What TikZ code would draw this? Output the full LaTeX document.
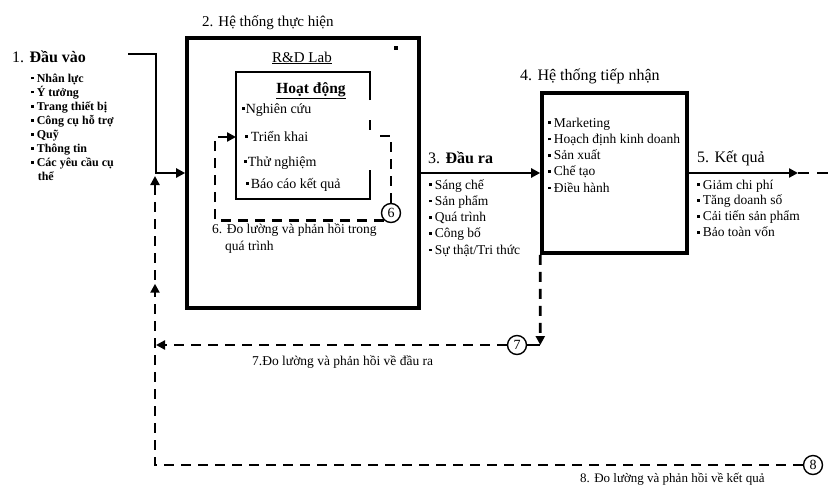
\documentclass[tikz,border=0pt]{standalone}
\usepackage{fontspec}
\setmainfont{Liberation Serif}
\usetikzlibrary{arrows.meta,decorations.markings}
\newcommand{\bsq}{\rule[0.22em]{2.6pt}{2.6pt}}
\begin{document}
\begin{tikzpicture}[x=1pt,y=-1pt,
  solidln/.style={line width=2.6pt},
  boxln/.style={draw,line width=3.6pt,inner sep=0pt},
  fb/.style={line width=2.8pt,dash pattern=on 10pt off 7pt},
  tip/.style={-{Triangle[length=9pt,width=9pt]}},
  num/.style={circle,draw,line width=1.4pt,minimum size=19pt,inner sep=0pt,fill=white,font=\fontsize{14}{14}\selectfont},
  ttl/.style={anchor=base west,inner sep=0pt,font=\fontsize{16}{18}\selectfont},
  itm/.style={anchor=base west,inner sep=0pt,font=\fontsize{13.5}{16}\selectfont},
  itmb/.style={anchor=base west,inner sep=0pt,font=\fontsize{12}{14}\selectfont\bfseries},
  lbl/.style={anchor=base west,inner sep=0pt,font=\fontsize{13.5}{16}\selectfont}]
\useasboundingbox (0,0) rectangle (832,488);

% boxes
\node[boxln,minimum width=232pt,minimum height=270pt] (box2) at (303,173) {};
\node[boxln,minimum width=145pt,minimum height=160pt] (box4) at (614.5,173) {};
\node[fill=black,minimum size=3.4pt,inner sep=0pt] (dot) at (396,48) {};

% inner box (right edge interrupted)
\draw[line width=1.6pt] (370,100) -- (370,72) -- (236,72) -- (236,199) -- (370,199) -- (370,170);
\draw[line width=1.6pt] (370,120) -- (370,130);

% titles
\node[ttl] (t1) at (12,62) {1. \textbf{Đầu vào}};
\node[ttl,font=\fontsize{15}{18}\selectfont] (t2) at (202,26) {2. Hệ thống thực hiện};
\node[ttl] (t3) at (428,163) {3. \textbf{Đầu ra}};
\node[ttl] (t4) at (520,80) {4. Hệ thống tiếp nhận};
\node[ttl] (t5) at (697,162) {5. Kết quả};
\node[anchor=base,inner sep=0pt,font=\fontsize{15}{18}\selectfont] (rd) at (302,62) {\underline{R\&D Lab}};
\node[anchor=base,inner sep=0pt,font=\fontsize{15.5}{18}\selectfont\bfseries] (hd) at (311,93) {\underline{Hoạt động}};

% list 1
\foreach \t [count=\i] in {Nhân lực,Ý tưởng,Trang thiết bị,Công cụ hỗ trợ,Quỹ,Thông tin,Các yêu cầu cụ}
  \node[itmb] (a\i) at (31,{82+(\i-1)*14.1}) {\bsq\hspace{3pt}\t};
\node[itmb] (a8) at (37.6,{82+7*14.1}) {thể};

% inner list
\node[itm,font=\fontsize{14}{16}\selectfont] (h1) at (242,113) {\bsq\hspace{1pt}Nghiên cứu};
\node[itm,font=\fontsize{14}{16}\selectfont] (h2) at (245,141) {\bsq\hspace{3pt}Triển khai};
\node[itm,font=\fontsize{14}{16}\selectfont] (h3) at (244,166) {\bsq\hspace{1pt}Thử nghiệm};
\node[itm,font=\fontsize{14}{16}\selectfont] (h4) at (246,188) {\bsq\hspace{2pt}Báo cáo kết quả};

% list 3
\foreach \t [count=\i] in {Sáng chế,Sản phẩm,Quá trình,Công bố,Sự thật/Tri thức}
  \node[itm] (o\i) at (429,{189+(\i-1)*16.3}) {\bsq\hspace{3pt}\t};
% list 4
\foreach \t [count=\i] in {Marketing,Hoạch định kinh doanh,Sản xuất,Chế tạo,Điều hành}
  \node[itm] (r\i) at (548,{127+(\i-1)*16.3}) {\bsq\hspace{3pt}\t};
% list 5
\foreach \t [count=\i] in {Giảm chi phí,Tăng doanh số,Cải tiến sản phẩm,Bảo toàn vốn}
  \node[itm] (k\i) at (697,{189+(\i-1)*15.9}) {\bsq\hspace{3pt}\t};

% feedback labels
\node[lbl] (l6a) at (212,233) {6. Đo lường và phản hồi trong};
\node[lbl] (l6b) at (225,250) {quá trình};
\node[lbl] (l7) at (252,365) {7.Đo lường và phản hồi về đầu ra};
\node[lbl,font=\fontsize{13}{16}\selectfont] (l8) at (580,482) {8. Đo lường và phản hồi về kết quả};

% numbered circles
\node[num] (c6) at (391,213) {6};
\node[num] (c7) at (517,345) {7};
\node[num] (c8) at (813,465) {8};

% main flow
\coordinate (in0) at (128,54);
\coordinate (in1) at (156,54);
\draw[solidln,tip] (in0) -- (in1) |- (box2.west);
\draw[solidln,tip] (box2.east) -- (box4.west);
\coordinate (o5tip) at (798,173);
\coordinate (o5end) at (832,173);
\draw[solidln,tip] (box4.east) -- (o5tip);
\draw[fb,dash pattern=on 11pt off 8pt] (o5tip) -- (o5end);

% loop 6
\coordinate (p6a) at (215,137);
\coordinate (p6b) at (236,137);
\coordinate (p6c) at (391,136);
\coordinate (p6d) at (373,136);
\draw[fb,tip] (c6.south west) -| (p6a) -- (p6b);
\draw[fb] (c6.north) -- (p6c) -- (p6d);

% feedback 7
\coordinate (p7a) at (540.3,345);
\coordinate (p7b) at (156,345);
\draw[fb,tip] (box4.south west) -- (p7a);
\draw[solidln] (c7.east) -- (p7a);
\draw[fb,tip] (c7.west) -- (p7b);

% feedback 8
\coordinate (p8a) at (155,465);
\coordinate (p8b) at (155,176);
\draw[fb,tip,postaction={decorate},
  decoration={markings,mark=at position 0.885 with {\arrow{Triangle[length=9pt,width=9pt]}}}]
  (c8.west) -- (p8a) -- (p8b);
\end{tikzpicture}
\end{document}
